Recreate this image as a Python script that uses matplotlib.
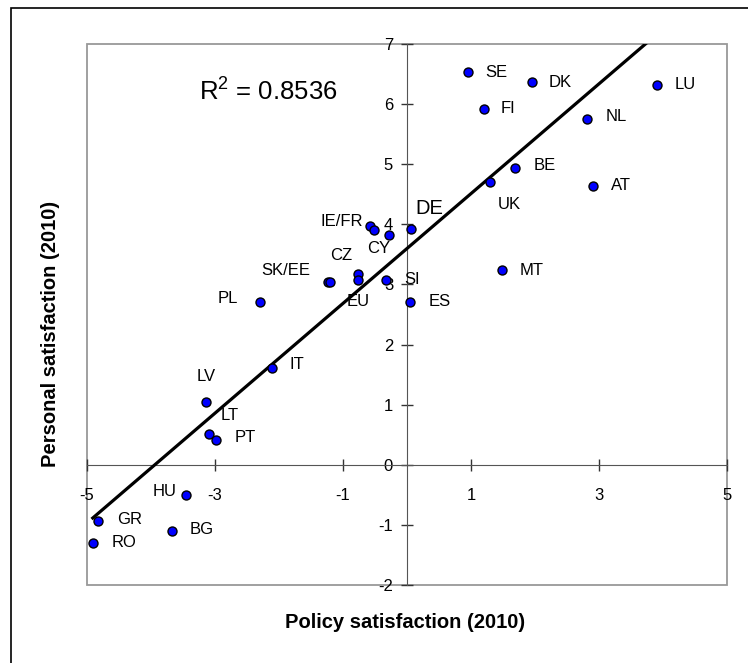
import numpy as np
import matplotlib
matplotlib.use("Agg")
import matplotlib.pyplot as plt
from matplotlib.patches import Rectangle

plt.rcParams['font.family'] = ['Liberation Sans', 'DejaVu Sans']
plt.rcParams['mathtext.fontset'] = 'custom'
plt.rcParams['mathtext.rm'] = 'Liberation Sans'
plt.rcParams['mathtext.default'] = 'regular'
plt.rcParams['axes.unicode_minus'] = False

# values
countries = ['SE', 'DK', 'LU', 'FI', 'NL', 'BE', 'UK', 'AT', 'DE', 'IE', 'FR', 'CY', 'CZ', 'EU',
             'SI', 'SK', 'EE', 'MT', 'ES', 'PL', 'IT', 'LV', 'LT', 'PT', 'HU', 'GR', 'BG', 'RO']
policy = [0.95, 1.95, 3.90, 1.20, 2.82, 1.69, 1.29, 2.91, 0.07, -0.58, -0.52, -0.28, -0.77, -0.77,
          -0.33, -1.23, -1.20, 1.48, 0.05, -2.30, -2.11, -3.14, -3.10, -2.98, -3.45, -4.83, -3.67, -4.91]
personal = [6.53, 6.36, 6.32, 5.92, 5.76, 4.93, 4.70, 4.64, 3.93, 3.97, 3.90, 3.83, 3.18, 3.08,
            3.08, 3.04, 3.04, 3.24, 2.71, 2.71, 1.61, 1.05, 0.52, 0.42, -0.51, -0.94, -1.10, -1.30]
x_ticks = [-5, -3, -1, 1, 3, 5]
y_ticks = [-2, -1, 0, 1, 2, 3, 4, 5, 6, 7]
r2_text = 'R$^2$ = 0.8536'

# label placement: text, ha, dx px, dy px (up)
label_pos = {
    'SE': ('SE', 'left', 17, 0), 'DK': ('DK', 'left', 17, 0), 'LU': ('LU', 'left', 18, 0),
    'FI': ('FI', 'left', 17, 0), 'NL': ('NL', 'left', 18, 2), 'BE': ('BE', 'left', 18, 3),
    'AT': ('AT', 'left', 18, 0), 'UK': ('UK', 'left', 8, -22), 'MT': ('MT', 'left', 18, 0),
    'IE': ('IE/FR', 'right', -7, 5), 'CY': ('CY', 'center', -10, -14), 'CZ': ('CZ', 'right', -5, 18),
    'SI': ('SI', 'left', 18, 0), 'EU': ('EU', 'center', 0, -22), 'ES': ('ES', 'left', 18, 0),
    'SK': ('SK/EE', 'right', -18, 12), 'PL': ('PL', 'right', -22, 3), 'IT': ('IT', 'left', 18, 3),
    'LV': ('LV', 'center', 0, 25), 'LT': ('LT', 'left', 12, 18), 'PT': ('PT', 'left', 18, 2),
    'HU': ('HU', 'right', -10, 4), 'GR': ('GR', 'left', 19, 2), 'BG': ('BG', 'left', 18, 1),
    'RO': ('RO', 'left', 19, 0),
}

fig = plt.figure(figsize=(7.48, 6.63), dpi=100)
ax = fig.add_axes([87 / 748, 1 - 585 / 663, 640 / 748, 541 / 663])
ax.set_xlim(-5, 5)
ax.set_ylim(-2, 7)

# trend line (countries only)
px = np.array([p for c, p in zip(countries, policy) if c != 'EU'])
py = np.array([q for c, q in zip(countries, personal) if c != 'EU'])
slope, icpt = np.polyfit(px, py, 1)
xl = np.array([px.min(), px.max()])
ax.plot(xl, slope * xl + icpt, color='black', lw=2.3, zorder=3)

ax.scatter(policy, personal, s=42, c='#0000ff', edgecolors='black', linewidths=1, zorder=4)

for c, xv, yv in zip(countries, policy, personal):
    if c in label_pos:
        txt, ha, dx, dy = label_pos[c]
        ax.annotate(txt, (xv, yv), xytext=(dx * 0.72, dy * 0.72), textcoords='offset points',
                    ha=ha, va='center', fontsize=12, zorder=5)
ax.annotate('DE', (0.07, 3.93), xytext=(4 * 0.72, 20 * 0.72), textcoords='offset points',
            ha='left', va='center', fontsize=14.5, zorder=5)

ax.text(-3.25, 6.2, r2_text, fontsize=18.5, ha='left', va='center')

# axes through the origin
for s in ['top', 'right']:
    ax.spines[s].set_visible(False)
ax.spines['left'].set_position(('data', 0))
ax.spines['bottom'].set_position(('data', 0))
ax.spines['left'].set_color('#555555')
ax.spines['bottom'].set_color('#555555')
ax.add_patch(Rectangle((0, 0), 1, 1, transform=ax.transAxes, fill=False,
                       edgecolor='#999999', lw=1.3, zorder=0, clip_on=False))

ax.set_xticks(x_ticks)
ax.set_yticks(y_ticks)
ax.tick_params(axis='x', direction='inout', length=9, width=1, color='#333333', pad=12, labelsize=12)
ax.tick_params(axis='y', direction='inout', length=8, width=1, color='#333333', pad=6, labelsize=12)

fig.text(405 / 748, 1 - 623 / 663, 'Policy satisfaction (2010)', ha='center', va='center',
         fontsize=14.5, fontweight='bold')
fig.text(51 / 748, 1 - 334 / 663, 'Personal satisfaction (2010)', ha='center', va='center',
         fontsize=14.5, fontweight='bold', rotation=90)

# outer chart frame (only top and left edges fall inside the picture)
fig.add_artist(Rectangle((11 / 748, -1), 5, 2 - 8 / 663, transform=fig.transFigure,
                         fill=False, edgecolor='black', lw=1.2))

fig.savefig('out.png', dpi=100)
